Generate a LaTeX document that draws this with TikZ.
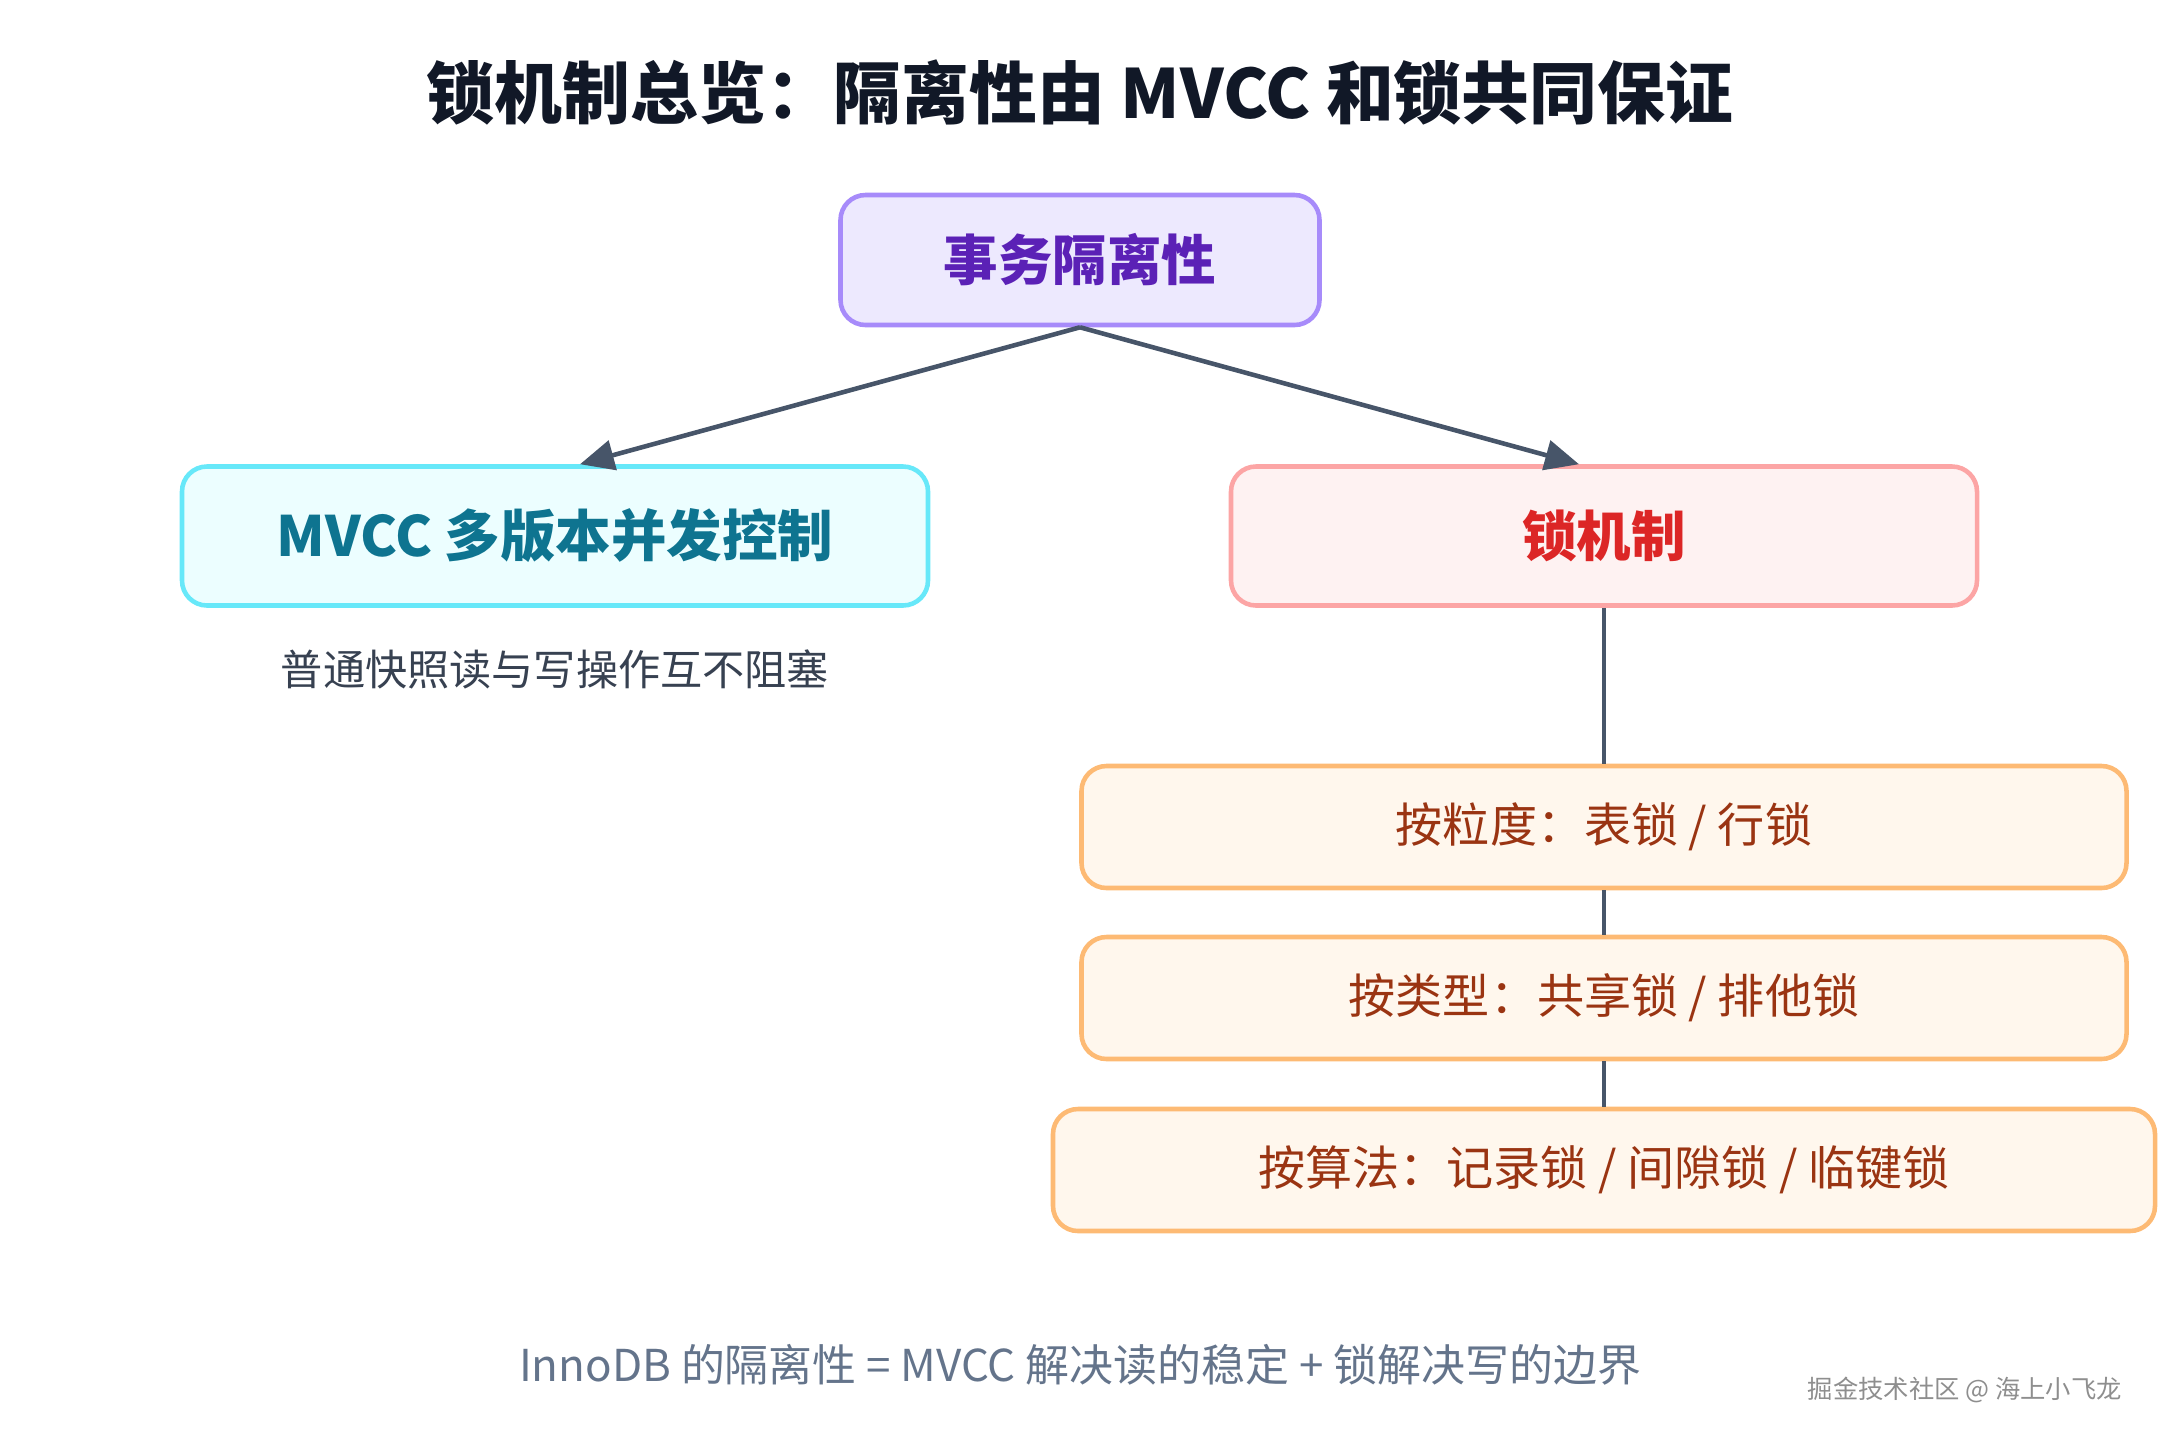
\documentclass[tikz,border=0pt]{standalone}
\usepackage{fontspec}
\setmainfont{Noto Sans CJK SC}
\usetikzlibrary{arrows.meta,positioning}

\definecolor{titlecol}{HTML}{111827}
\definecolor{isofill}{HTML}{EDE9FE}
\definecolor{isoline}{HTML}{A78BFA}
\definecolor{isotext}{HTML}{5B21B6}
\definecolor{mvccfill}{HTML}{ECFEFF}
\definecolor{mvccline}{HTML}{67E8F9}
\definecolor{mvcctext}{HTML}{0E7490}
\definecolor{lockfill}{HTML}{FEF2F2}
\definecolor{lockline}{HTML}{FCA5A5}
\definecolor{locktext}{HTML}{DC2626}
\definecolor{catfill}{HTML}{FFF7ED}
\definecolor{catline}{HTML}{FDBA74}
\definecolor{cattext}{HTML}{9A3412}
\definecolor{linkcol}{HTML}{475569}
\definecolor{notecol}{HTML}{374151}
\definecolor{sumcol}{HTML}{64748B}
\definecolor{markcol}{HTML}{8E8E8E}

\tikzset{
  box/.style={rectangle,rounded corners=0.25cm,line width=1.3pt,align=center,inner sep=0},
  topbox/.style={box,draw=isoline,fill=isofill,text=isotext,minimum width=4.79cm,minimum height=1.30cm,font=\fontsize{15.5}{18}\selectfont\bfseries},
  mvccbox/.style={box,draw=mvccline,fill=mvccfill,text=mvcctext,minimum width=7.46cm,minimum height=1.39cm,font=\fontsize{15.8}{18}\selectfont\bfseries},
  lockbox/.style={box,draw=lockline,fill=lockfill,text=locktext,minimum width=7.46cm,minimum height=1.39cm,font=\fontsize{15.5}{18}\selectfont\bfseries},
  catbox/.style={box,draw=catline,fill=catfill,text=cattext,minimum width=10.45cm,minimum height=1.22cm,font=\fontsize{13.4}{16}\selectfont},
  titletext/.style={text=titlecol,font=\fontsize{19.3}{23}\selectfont\bfseries},
  subtext/.style={text=notecol,font=\fontsize{12}{14}\selectfont},
  bottomtext/.style={text=sumcol,font=\fontsize{12.5}{15}\selectfont},
  marktext/.style={text=markcol,font=\fontsize{7.2}{9}\selectfont},
  link/.style={draw=linkcol,line width=1.3pt}
}

\begin{document}
\begin{tikzpicture}
    \useasboundingbox (0,0) rectangle (21.6,-14.4);
    \draw

    (10.8,-0.92)node[titletext](title){锁机制总览：隔离性由 MVCC 和锁共同保证}
    (10.8,-2.60)node[topbox](iso){事务隔离性}

    (5.55,-5.36)node[mvccbox](mvcc){MVCC 多版本并发控制}
    (16.04,-5.36)node[lockbox](lock){锁机制}
    (mvcc.south)++(0,-0.62)node[subtext](mvccnote){普通快照读与写操作互不阻塞}

    (16.04,-8.27)node[catbox](gran){按粒度：表锁 / 行锁}
    (16.04,-9.98)node[catbox](kind){按类型：共享锁 / 排他锁}
    (16.04,-11.70)node[catbox,minimum width=11.02cm](algo){按算法：记录锁 / 间隙锁 / 临键锁}

    (10.8,-13.65)node[bottomtext](summary){InnoDB 的隔离性 = MVCC 解决读的稳定 + 锁解决写的边界}
    (21.34,-13.90)node[marktext,anchor=east](mark){掘金技术社区 @ 海上小飞龙}
    ;
    \draw[link,-{Triangle[length=0.34cm,width=0.3cm]}](iso.south)--([xshift=0.25cm]mvcc.north);
    \draw[link,-{Triangle[length=0.34cm,width=0.3cm]}](iso.south)--([xshift=-0.25cm]lock.north);

    \draw[link](lock.south)--(gran.north);
    \draw[link](gran.south)--(kind.north);
    \draw[link](kind.south)--(algo.north);

\end{tikzpicture}
\end{document}
